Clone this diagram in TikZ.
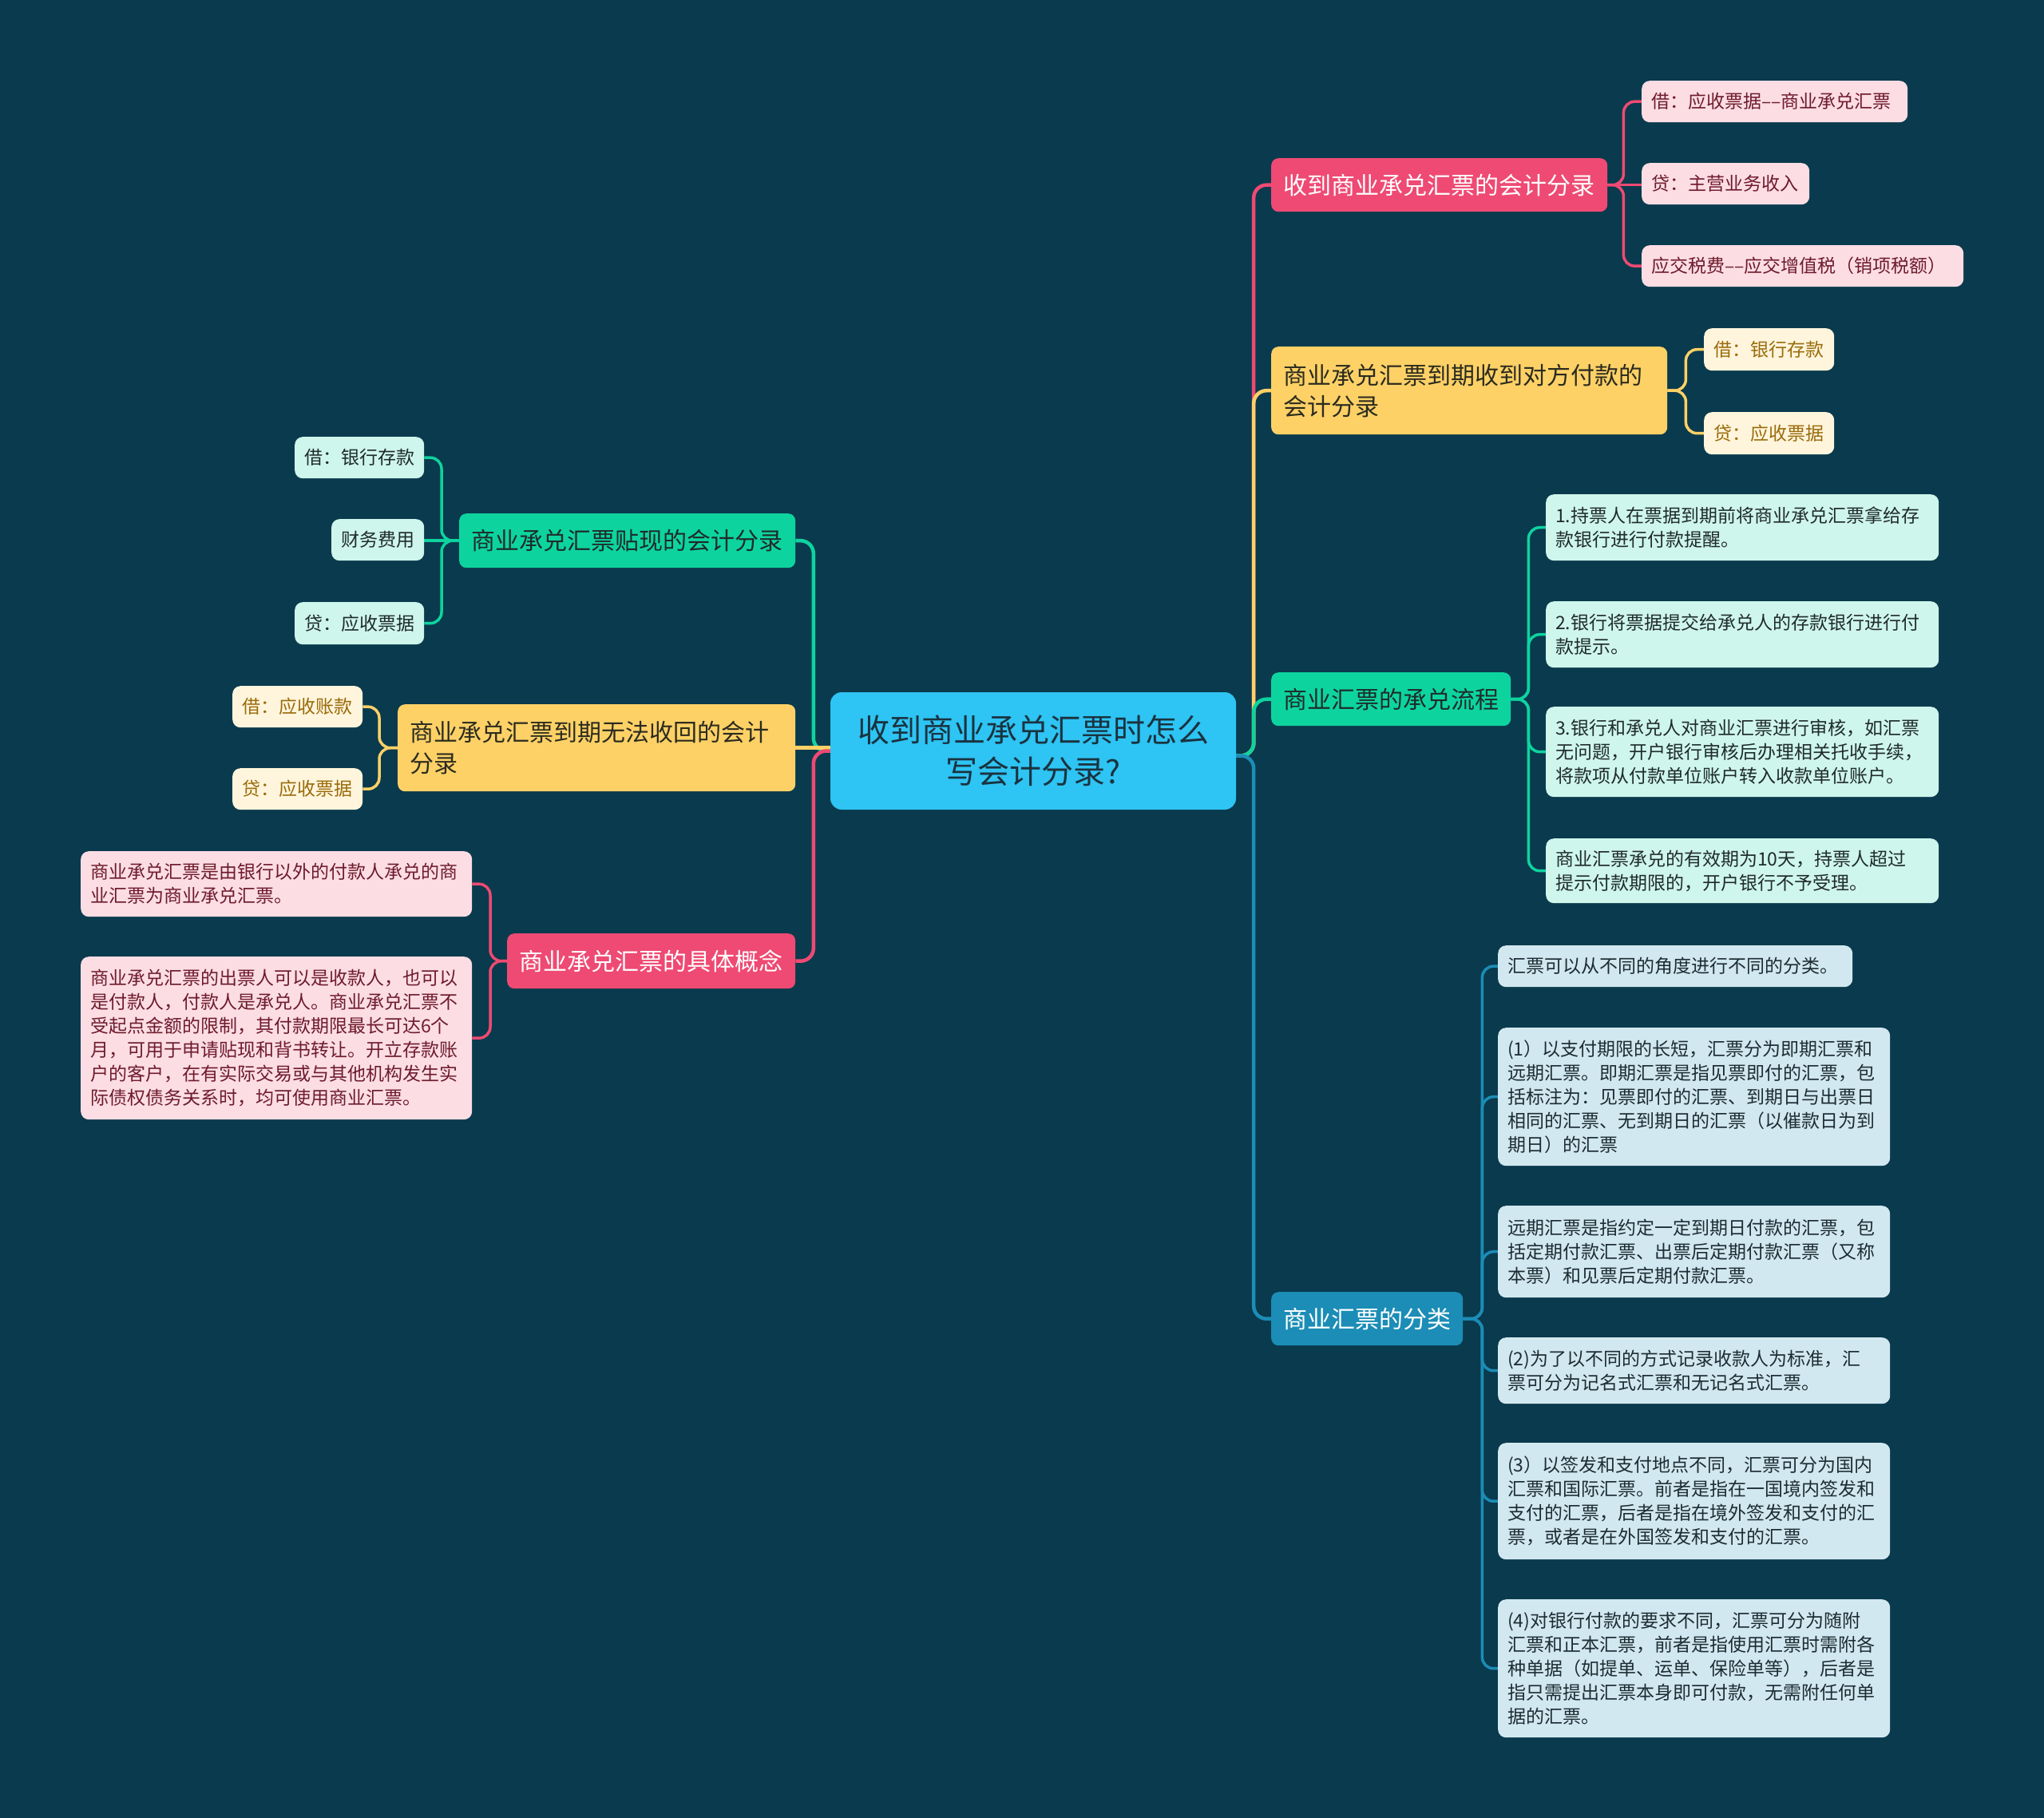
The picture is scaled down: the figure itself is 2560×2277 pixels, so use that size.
\documentclass[tikz,border=0pt]{standalone}
\usepackage{fontspec}
\setmainfont{Noto Sans CJK SC}
\usetikzlibrary{backgrounds}
\definecolor{bg}{HTML}{0A3A4D}
\definecolor{rootc}{HTML}{2EC4F3}
\definecolor{roott}{HTML}{1A3340}
\definecolor{pinkc}{HTML}{EE4A73}
\definecolor{pinkl}{HTML}{FCDDE4}
\definecolor{pinkt}{HTML}{6E1B2C}
\definecolor{yelc}{HTML}{FDD166}
\definecolor{yell}{HTML}{FFF5DC}
\definecolor{yelt}{HTML}{9A6B0A}
\definecolor{grnc}{HTML}{0DD49F}
\definecolor{grnl}{HTML}{CFF6EC}
\definecolor{grnt}{HTML}{1F2B2A}
\definecolor{bluc}{HTML}{1B8DB6}
\definecolor{blul}{HTML}{D2E8F0}
\definecolor{blut}{HTML}{1D2C33}
\definecolor{darkt}{HTML}{2B2B1F}
\tikzset{
  rootbox/.style={fill=rootc, text=roott, rounded corners=14pt, align=center,
    font=\fontsize{40}{52}\selectfont, minimum width=508pt, minimum height=147pt, inner sep=0pt},
  mainbox/.style={anchor=north west, rounded corners=9pt, align=left, inner xsep=15pt, inner ysep=0pt,
    font=\fontsize{30}{39}\selectfont},
  leafbox/.style={anchor=north west, rounded corners=10pt, align=left, inner xsep=12pt, inner ysep=0pt,
    font=\fontsize{23}{30}\selectfont},
  conn/.style={line width=4.5pt, rounded corners=16pt},
  lconn/.style={line width=3.5pt, rounded corners=14pt},
}
\begin{document}
\begin{tikzpicture}[x=1pt,y=-1pt]
\useasboundingbox (0,0) rectangle (2560,2277);
% root
\node[rootbox] (root) at (1294,940.5) {收到商业承兑汇票时怎么\\写会计分录?};
% right main nodes
\node[mainbox, fill=pinkc, text=white, minimum width=421pt, minimum height=67pt, text width=391pt] (n1) at (1592,198) {收到商业承兑汇票的会计分录};
\node[mainbox, fill=yelc, text=darkt, minimum width=496pt, minimum height=110pt, text width=466pt] (n2) at (1592,434) {商业承兑汇票到期收到对方付款的\\会计分录};
\node[mainbox, fill=grnc, text=grnt, minimum width=300pt, minimum height=67pt, text width=270pt] (n3) at (1592,842) {商业汇票的承兑流程};
\node[mainbox, fill=bluc, text=white, minimum width=240pt, minimum height=67pt, text width=210pt] (n4) at (1592,1618) {商业汇票的分类};
% left main nodes
\node[mainbox, fill=grnc, text=grnt, minimum width=421pt, minimum height=68pt, text width=391pt] (n5) at (575,643) {商业承兑汇票贴现的会计分录};
\node[mainbox, fill=yelc, text=darkt, minimum width=498pt, minimum height=109pt, text width=468pt] (n6) at (498,882) {商业承兑汇票到期无法收回的会计\\分录};
\node[mainbox, fill=pinkc, text=white, minimum width=361pt, minimum height=69pt, text width=331pt] (n7) at (635,1169) {商业承兑汇票的具体概念};
% leaves n1
\node[leafbox, fill=pinkl, text=pinkt, minimum width=333pt, minimum height=52pt, text width=309pt] (a1) at (2056,101) {借：应收票据––商业承兑汇票};
\node[leafbox, fill=pinkl, text=pinkt, minimum width=210pt, minimum height=52pt, text width=186pt] (a2) at (2056,204) {贷：主营业务收入};
\node[leafbox, fill=pinkl, text=pinkt, minimum width=403pt, minimum height=52pt, text width=379pt] (a3) at (2056,307) {应交税费––应交增值税（销项税额）};
% leaves n2
\node[leafbox, fill=yell, text=yelt, minimum width=163pt, minimum height=53pt, text width=139pt] (b1) at (2134,411) {借：银行存款};
\node[leafbox, fill=yell, text=yelt, minimum width=163pt, minimum height=53pt, text width=139pt] (b2) at (2134,516) {贷：应收票据};
% leaves n3
\node[leafbox, fill=grnl, text=grnt, minimum width=492pt, minimum height=83pt, text width=468pt] (c1) at (1936,619) {1.持票人在票据到期前将商业承兑汇票拿给存\\款银行进行付款提醒。};
\node[leafbox, fill=grnl, text=grnt, minimum width=492pt, minimum height=83pt, text width=468pt] (c2) at (1936,753) {2.银行将票据提交给承兑人的存款银行进行付\\款提示。};
\node[leafbox, fill=grnl, text=grnt, minimum width=492pt, minimum height=113pt, text width=468pt] (c3) at (1936,885) {3.银行和承兑人对商业汇票进行审核，如汇票\\无问题，开户银行审核后办理相关托收手续，\\将款项从付款单位账户转入收款单位账户。};
\node[leafbox, fill=grnl, text=grnt, minimum width=492pt, minimum height=81pt, text width=468pt] (c4) at (1936,1050) {商业汇票承兑的有效期为10天，持票人超过\\提示付款期限的，开户银行不予受理。};
% leaves n4
\node[leafbox, fill=blul, text=blut, minimum width=444pt, minimum height=52pt, text width=420pt] (d1) at (1876,1184) {汇票可以从不同的角度进行不同的分类。};
\node[leafbox, fill=blul, text=blut, minimum width=491pt, minimum height=173pt, text width=467pt] (d2) at (1876,1287) {(1）以支付期限的长短，汇票分为即期汇票和\\远期汇票。即期汇票是指见票即付的汇票，包\\括标注为：见票即付的汇票、到期日与出票日\\相同的汇票、无到期日的汇票（以催款日为到\\期日）的汇票};
\node[leafbox, fill=blul, text=blut, minimum width=491pt, minimum height=115pt, text width=467pt] (d3) at (1876,1510) {远期汇票是指约定一定到期日付款的汇票，包\\括定期付款汇票、出票后定期付款汇票（又称\\本票）和见票后定期付款汇票。};
\node[leafbox, fill=blul, text=blut, minimum width=491pt, minimum height=83pt, text width=467pt] (d4) at (1876,1675) {(2)为了以不同的方式记录收款人为标准，汇\\票可分为记名式汇票和无记名式汇票。};
\node[leafbox, fill=blul, text=blut, minimum width=491pt, minimum height=146pt, text width=467pt] (d5) at (1876,1807) {(3）以签发和支付地点不同，汇票可分为国内\\汇票和国际汇票。前者是指在一国境内签发和\\支付的汇票，后者是指在境外签发和支付的汇\\票，或者是在外国签发和支付的汇票。};
\node[leafbox, fill=blul, text=blut, minimum width=491pt, minimum height=173pt, text width=467pt] (d6) at (1876,2003) {(4)对银行付款的要求不同，汇票可分为随附\\汇票和正本汇票，前者是指使用汇票时需附各\\种单据（如提单、运单、保险单等），后者是\\指只需提出汇票本身即可付款，无需附任何单\\据的汇票。};
% leaves n5
\node[leafbox, fill=grnl, text=grnt, minimum width=162pt, minimum height=52pt, text width=138pt] (e1) at (369,547) {借：银行存款};
\node[leafbox, fill=grnl, text=grnt, minimum width=116pt, minimum height=52pt, text width=92pt] (e2) at (415,650) {财务费用};
\node[leafbox, fill=grnl, text=grnt, minimum width=162pt, minimum height=53pt, text width=138pt] (e3) at (369,754) {贷：应收票据};
% leaves n6
\node[leafbox, fill=yell, text=yelt, minimum width=163pt, minimum height=52pt, text width=139pt] (f1) at (291,859) {借：应收账款};
\node[leafbox, fill=yell, text=yelt, minimum width=163pt, minimum height=52pt, text width=139pt] (f2) at (291,962) {贷：应收票据};
% leaves n7
\node[leafbox, fill=pinkl, text=pinkt, minimum width=490pt, minimum height=82pt, text width=466pt] (g1) at (101,1066) {商业承兑汇票是由银行以外的付款人承兑的商\\业汇票为商业承兑汇票。};
\node[leafbox, fill=pinkl, text=pinkt, minimum width=490pt, minimum height=204pt, text width=466pt] (g2) at (101,1198) {商业承兑汇票的出票人可以是收款人，也可以\\是付款人，付款人是承兑人。商业承兑汇票不\\受起点金额的限制，其付款期限最长可达6个\\月，可用于申请贴现和背书转让。开立存款账\\户的客户，在有实际交易或与其他机构发生实\\际债权债务关系时，均可使用商业汇票。};
\begin{pgfonlayer}{background}
\fill[bg] (0,0) rectangle (2560,2277);
% root -> right
\draw[conn, pinkc] ([yshift=-6pt]root.east) -- ++(22,0) |- (n1.west);
\draw[conn, yelc] ([yshift=-6pt]root.east) -- ++(22,0) |- (n2.west);
\draw[conn, grnc] ([yshift=-6pt]root.east) -- ++(22,0) |- (n3.west);
\draw[conn, bluc] ([yshift=-6pt]root.east) -- ++(22,0) |- (n4.west);
% root -> left
\draw[conn, grnc] (root.west) -- ++(-21,0) |- (n5.east);
\draw[conn, yelc] (n6.east) -- (n6.east -| root.west);
\draw[conn, pinkc] (root.west) -- ++(-21,0) |- (n7.east);
% n1
\draw[lconn, pinkc] (n1.east) -- ++(20,0) |- (a1.west);
\draw[lconn, pinkc] (n1.east) -- (n1.east -| a2.west);
\draw[lconn, pinkc] (n1.east) -- ++(20,0) |- (a3.west);
% n2
\draw[lconn, yelc] (n2.east) -- ++(23,0) |- (b1.west);
\draw[lconn, yelc] (n2.east) -- ++(23,0) |- (b2.west);
% n3
\draw[lconn, grnc] (n3.east) -- ++(22,0) |- (c1.west);
\draw[lconn, grnc] (n3.east) -- ++(22,0) |- (c2.west);
\draw[lconn, grnc] (n3.east) -- ++(22,0) |- (c3.west);
\draw[lconn, grnc] (n3.east) -- ++(22,0) |- (c4.west);
% n4
\foreach \k in {d1,d2,d3,d4,d5,d6}{
  \draw[lconn, bluc] (n4.east) -- ++(24,0) |- (\k.west);
}
% n5
\draw[lconn, grnc] (n5.west) -- ++(-22,0) |- (e1.east);
\draw[lconn, grnc] (n5.west) -- (n5.west -| e2.east);
\draw[lconn, grnc] (n5.west) -- ++(-22,0) |- (e3.east);
% n6
\draw[lconn, yelc] (n6.west) -- ++(-23,0) |- (f1.east);
\draw[lconn, yelc] (n6.west) -- ++(-23,0) |- (f2.east);
% n7
\draw[lconn, pinkc] (n7.west) -- ++(-21,0) |- (g1.east);
\draw[lconn, pinkc] (n7.west) -- ++(-21,0) |- (g2.east);
\end{pgfonlayer}
\end{tikzpicture}
\end{document}
